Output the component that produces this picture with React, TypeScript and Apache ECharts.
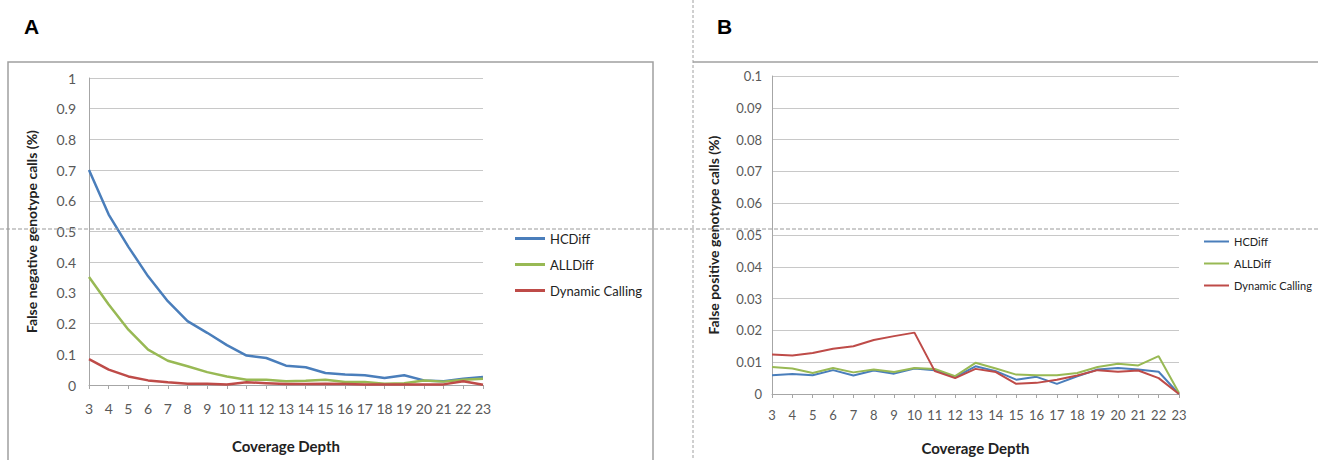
import React, { useEffect, useRef } from "react";
import * as echarts from "echarts";

const depths = ["3","4","5","6","7","8","9","10","11","12","13","14","15","16","17","18","19","20","21","22","23"];
const seriesNames = ["HCDiff", "ALLDiff", "Dynamic Calling"];

// Panel A: false negative genotype calls (%)
const fnHCDiff = [0.70,0.555,0.45,0.354,0.273,0.208,0.17,0.13,0.096,0.088,0.063,0.058,0.039,0.034,0.032,0.023,0.032,0.015,0.012,0.02,0.026];
const fnALLDiff = [0.352,0.262,0.18,0.115,0.079,0.061,0.042,0.028,0.017,0.017,0.012,0.014,0.017,0.01,0.01,0.004,0.006,0.015,0.011,0.017,0.02];
const fnDynamic = [0.084,0.05,0.028,0.015,0.009,0.004,0.004,0.002,0.009,0.006,0.003,0.003,0.004,0.003,0.002,0.002,0.002,0.002,0.002,0.012,0.001];

// Panel B: false positive genotype calls (%)
const fpHCDiff = [0.0059,0.0063,0.0059,0.0075,0.0058,0.0074,0.0064,0.008,0.0075,0.0053,0.0087,0.0072,0.0045,0.0054,0.0032,0.0056,0.0077,0.0082,0.0077,0.007,0.0];
const fpALLDiff = [0.0085,0.008,0.0066,0.0082,0.0068,0.0077,0.0069,0.0082,0.0079,0.0056,0.0098,0.008,0.0061,0.0059,0.0059,0.0066,0.0085,0.0095,0.009,0.0119,0.0003];
const fpDynamic = [0.0124,0.0121,0.0129,0.0142,0.015,0.017,0.0182,0.0193,0.0072,0.005,0.0079,0.0069,0.0032,0.0035,0.0045,0.0058,0.0075,0.007,0.0074,0.005,0.0];

const colors = ["#4a7ebb", "#98b954", "#be4b48"];
const FONT = "Lato, 'Open Sans', sans-serif";

export default function App() {
  const ref = useRef<HTMLDivElement>(null);
  useEffect(() => {
    if (!ref.current) return;
    const chart = echarts.init(ref.current, null, { renderer: "svg" });
    const fmt = (v: number) => String(+v.toFixed(3));
    const xAxisBase = (gridIndex: number, margin: number, nameGap: number, fs: number) => ({
      type: "category",
      gridIndex,
      data: depths,
      boundaryGap: false,
      axisLine: { lineStyle: { color: "#a6a6a6", width: 1 } },
      axisTick: { show: true, length: 4, lineStyle: { color: "#a6a6a6" } },
      axisLabel: { color: "#595959", fontSize: fs, margin, fontFamily: FONT, interval: 0 },
      name: "Coverage Depth",
      nameLocation: "middle",
      nameGap,
      nameTextStyle: { fontWeight: "bold", fontSize: 15, color: "#222", fontFamily: FONT },
    });
    const yAxisBase = (gridIndex: number, max: number, interval: number, name: string, nameGap: number, margin: number, fs: number) => ({
      type: "value",
      gridIndex,
      min: 0,
      max,
      interval,
      axisLine: { show: true, lineStyle: { color: "#a6a6a6", width: 1 } },
      axisTick: { show: false },
      splitLine: { lineStyle: { color: "#c8c8c8", width: 1 } },
      axisLabel: { color: "#595959", fontSize: fs, margin, fontFamily: FONT, formatter: fmt },
      name,
      nameLocation: "middle",
      nameRotate: 90,
      nameGap,
      nameTextStyle: { fontWeight: "bold", fontSize: 14, color: "#222", fontFamily: FONT },
    });
    const mk = (name: string, data: number[], idx: number, color: string, w: number) => ({
      type: "line",
      name,
      data,
      xAxisIndex: idx,
      yAxisIndex: idx,
      showSymbol: false,
      symbol: "none",
      lineStyle: { color, width: w },
      itemStyle: { color },
    });
    chart.setOption({
      animation: false,
      backgroundColor: "#ffffff",
      grid: [
        { left: 89, right: 1318 - 483, top: 78, bottom: 460 - 385 },
        { left: 772, right: 1318 - 1179, top: 76, bottom: 460 - 394 },
      ],
      xAxis: [xAxisBase(0, 16, 53, 14), xAxisBase(1, 14, 46, 13)],
      yAxis: [
        yAxisBase(0, 1, 0.1, "False negative genotype calls (%)", 51, 13, 14),
        yAxisBase(1, 0.1, 0.01, "False positive genotype calls (%)", 52, 10, 13),
      ],
      legend: [
        {
          orient: "vertical",
          left: 510,
          top: 226,
          itemWidth: 30,
          itemHeight: 3,
          itemGap: 11,
          icon: "rect",
          data: seriesNames,
          textStyle: { fontSize: 13, color: "#222", fontFamily: FONT, lineHeight: 15 },
          selectedMode: false,
        },
        {
          orient: "vertical",
          left: 1199,
          top: 230,
          itemWidth: 25,
          itemHeight: 2,
          itemGap: 9,
          icon: "rect",
          data: seriesNames,
          textStyle: { fontSize: 11, color: "#222", fontFamily: FONT, lineHeight: 13 },
          selectedMode: false,
        },
      ],
      graphic: [
        { type: "rect", shape: { x: 8, y: 62, width: 645, height: 420 }, style: { fill: "none", stroke: "#a0a0a0", lineWidth: 1.5 }, silent: true, z: -1 },
        { type: "line", shape: { x1: 693, y1: 62, x2: 1318, y2: 62 }, style: { stroke: "#a0a0a0", lineWidth: 1.5 }, silent: true },
        { type: "line", shape: { x1: 693, y1: 0, x2: 693, y2: 460 }, style: { stroke: "#a0a0a0", lineWidth: 1, lineDash: [3, 2] }, silent: true },
        { type: "line", shape: { x1: 0, y1: 229, x2: 1318, y2: 229 }, style: { stroke: "#999999", lineWidth: 1, lineDash: [4, 2] }, silent: true, z: 100 },
        { type: "text", x: 24, y: 16, style: { text: "A", fontSize: 21, fontWeight: "bold", fill: "#000", fontFamily: "Arial, 'Liberation Sans', sans-serif" } },
        { type: "text", x: 717, y: 16, style: { text: "B", fontSize: 21, fontWeight: "bold", fill: "#000", fontFamily: "Arial, 'Liberation Sans', sans-serif" } },
      ],
      series: [
        mk("HCDiff", fnHCDiff, 0, colors[0], 2.5),
        mk("ALLDiff", fnALLDiff, 0, colors[1], 2.5),
        mk("Dynamic Calling", fnDynamic, 0, colors[2], 2.5),
        mk("HCDiff", fpHCDiff, 1, colors[0], 2),
        mk("ALLDiff", fpALLDiff, 1, colors[1], 2),
        mk("Dynamic Calling", fpDynamic, 1, colors[2], 2),
      ],
    });
    return () => chart.dispose();
  }, []);
  return <div ref={ref} style={{ position: "fixed", left: 0, top: 0, width: 1318, height: 460 }} />;
}
